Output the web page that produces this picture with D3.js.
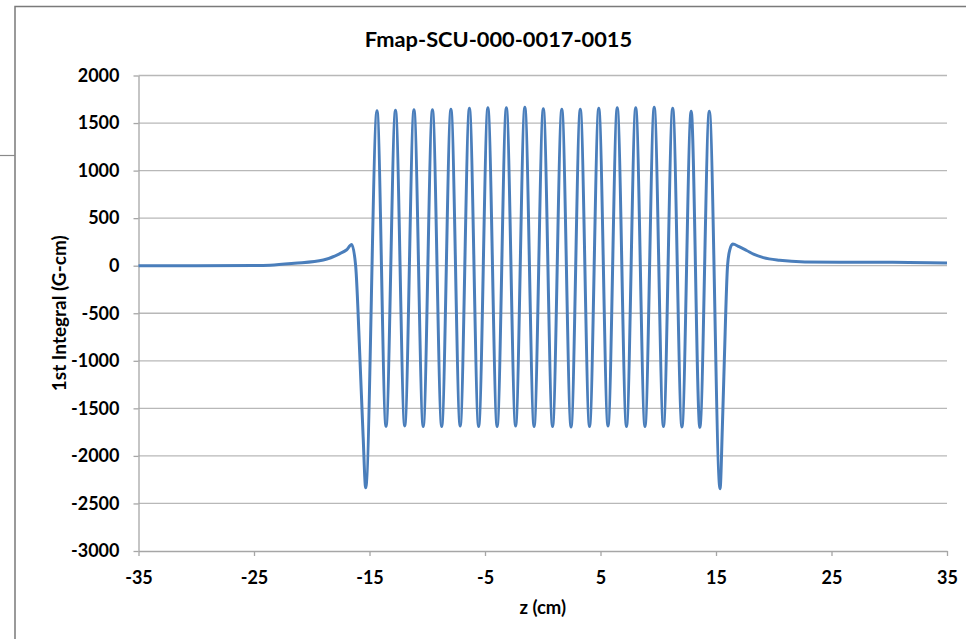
<!DOCTYPE html>
<html>
<head>
<meta charset="utf-8">
<script src="https://cdn.jsdelivr.net/npm/d3@7/dist/d3.min.js"></script>
<style>
  html, body { margin: 0; padding: 0; background: #fff; }
  svg { display: block; font-family: Lato, "Open Sans", sans-serif; font-weight: bold; }
</style>
</head>
<body>
<div id="chart"></div>
<script>
// Tick values
const xTicks = [-35, -25, -15, -5, 5, 15, 25, 35];
const yTicks = [2000, 1500, 1000, 500, 0, -500, -1000, -1500, -2000, -2500, -3000];

// Entry tail and end pole (upstream)
const entryZ = [-35, -30, -25, -23.6, -21.5, -19, -17.6, -17, -16.54, -16.2, -15.82, -15.55, -15.33];
const entryV = [0, 0, 2, 5, 25, 60, 125, 165, 222, 0, -1000, -1800, -2335];

// Oscillation peaks
const peakZ = [-14.35, -12.75, -11.15, -9.55, -7.95, -6.35, -4.75, -3.15, -1.55, 0.05,
  1.65, 3.25, 4.85, 6.45, 8.05, 9.65, 11.25, 12.85, 14.42];
const peakV = [1630, 1635, 1640, 1640, 1645, 1655, 1660, 1660, 1665, 1650,
  1645, 1645, 1655, 1660, 1660, 1665, 1655, 1625, 1625];

// Oscillation troughs
const troughZ = [-13.57, -11.95, -10.35, -8.75, -7.15, -5.55, -3.95, -2.35, -0.75, 0.85,
  2.45, 4.05, 5.65, 7.25, 8.85, 10.45, 12.05, 13.6];
const troughV = [-1690, -1685, -1690, -1690, -1685, -1690, -1690, -1685, -1690, -1690,
  -1695, -1690, -1685, -1690, -1690, -1690, -1695, -1700];

// Exit end pole and tail (downstream)
const exitZ = [15.35, 15.55, 15.72, 16.0, 16.2, 16.45, 17.0, 17.65, 18.3, 19.1, 20.5, 22.7, 26, 30.3, 35];
const exitV = [-2345, -1700, -1000, 0, 170, 228, 200, 160, 118, 85, 57, 40, 37, 36, 28];

const W = 966, H = 639;
const margin = {top: 75.5, right: 19, bottom: 88, left: 138.5};
const width = W - margin.left - margin.right;
const height = H - margin.top - margin.bottom;

// Build the series
const series = []
  .concat(entryZ.map((z, i) => ({z: z, v: entryV[i]})))
  .concat(peakZ.map((z, i) => ({z: z, v: peakV[i]})))
  .concat(troughZ.map((z, i) => ({z: z, v: troughV[i]})))
  .concat(exitZ.map((z, i) => ({z: z, v: exitV[i]})))
  .sort((a, b) => a.z - b.z);

const svg = d3.select("#chart").append("svg")
  .attr("width", W)
  .attr("height", H);

// Frame of the screenshot
svg.append("path")
  .attr("d", "M15,639 L15,6.5 L966,6.5")
  .attr("fill", "none")
  .attr("stroke", "#7a7a7a")
  .attr("stroke-width", 1.5);
svg.append("line")
  .attr("x1", 0).attr("x2", 15)
  .attr("y1", 155.5).attr("y2", 155.5)
  .attr("stroke", "#8a8a8a")
  .attr("stroke-width", 1.2);

const x = d3.scaleLinear().domain([-35, 35]).range([0, width]);
const y = d3.scaleLinear().domain([-3000, 2000]).range([height, 0]);

const g = svg.append("g")
  .attr("transform", "translate(" + margin.left + "," + margin.top + ")");

// Grid lines
g.append("g")
  .selectAll("line")
  .data(yTicks.filter(d => d !== -3000))
  .enter()
  .append("line")
  .attr("x1", 0)
  .attr("x2", width)
  .attr("y1", d => y(d))
  .attr("y2", d => y(d))
  .attr("stroke", "#b8b8b8")
  .attr("stroke-width", 1.3);

const fmt = d => String(d);

// Y axis
const gY = g.append("g")
  .call(d3.axisLeft(y).tickValues(yTicks).tickFormat(fmt).tickSize(5).tickSizeOuter(0).tickPadding(14));
gY.select(".domain").attr("stroke", "#a6a6a6").attr("stroke-width", 1.3);
gY.selectAll(".tick line").attr("stroke", "#a6a6a6").attr("stroke-width", 1.3);
gY.selectAll(".tick text")
  .attr("fill", "#000")
  .style("font-size", "18px")
  .style("font-family", "Lato, sans-serif")
  .style("font-weight", "bold");

// X axis
const gX = g.append("g")
  .attr("transform", "translate(0," + height + ")")
  .call(d3.axisBottom(x).tickValues(xTicks).tickFormat(fmt).tickSize(5).tickSizeOuter(0).tickPadding(15));
gX.select(".domain").attr("stroke", "#a6a6a6").attr("stroke-width", 1.3);
gX.selectAll(".tick line").attr("stroke", "#a6a6a6").attr("stroke-width", 1.3);
gX.selectAll(".tick text")
  .attr("fill", "#000")
  .style("font-size", "18px")
  .style("font-family", "Lato, sans-serif")
  .style("font-weight", "bold");

// Data line
const line = d3.line()
  .x(d => x(d.z))
  .y(d => y(d.v))
  .curve(d3.curveMonotoneX);

g.append("path")
  .datum(series)
  .attr("d", line)
  .attr("fill", "none")
  .attr("stroke", "#4a7ebb")
  .attr("stroke-width", 3)
  .attr("stroke-linejoin", "round");

// Title
svg.append("text")
  .attr("x", 498.5)
  .attr("y", 47)
  .attr("text-anchor", "middle")
  .style("font-size", "21.8px")
  .text("Fmap-SCU-000-0017-0015");

// Axis titles
svg.append("text")
  .attr("x", margin.left + width / 2)
  .attr("y", 614)
  .attr("text-anchor", "middle")
  .style("font-size", "18.5px")
  .text("z (cm)");

svg.append("text")
  .attr("transform", "translate(66," + (margin.top + height / 2) + ") rotate(-90)")
  .attr("text-anchor", "middle")
  .style("font-size", "19px")
  .text("1st Integral (G-cm)");
</script>
</body>
</html>
